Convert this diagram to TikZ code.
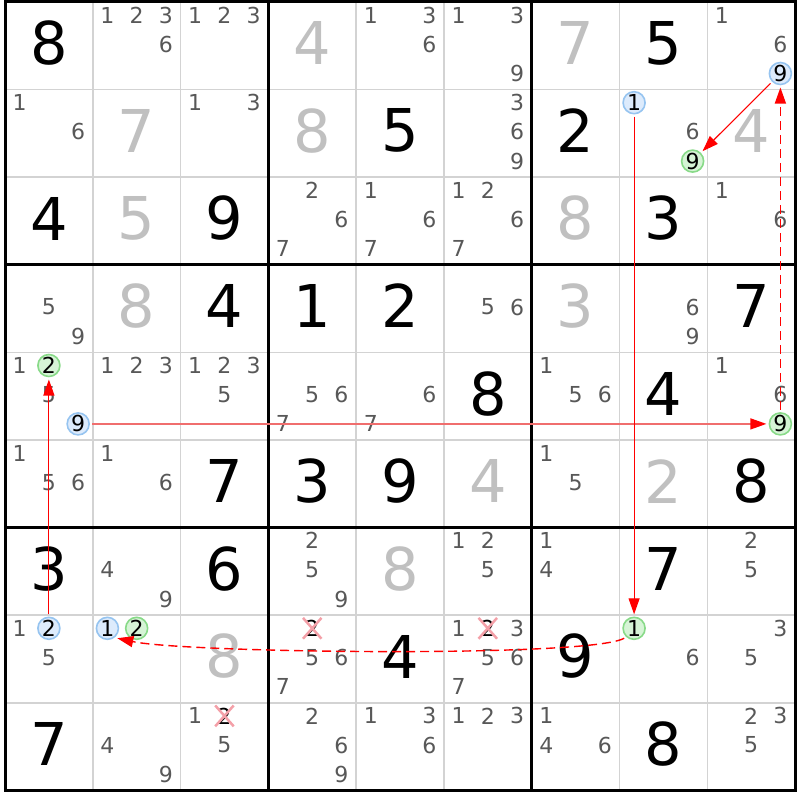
\documentclass[tikz,border=0pt]{standalone}
\usepackage{fontspec}
\setmainfont{DejaVu Sans}
\usetikzlibrary{arrows.meta,shapes.misc}
\definecolor{candgray}{RGB}{88,88,88}
\definecolor{solvedgray}{RGB}{192,192,192}
\definecolor{gridgray}{RGB}{211,211,211}
\definecolor{bluefill}{RGB}{221,235,252}
\definecolor{bluedraw}{RGB}{150,196,240}
\definecolor{greenfill}{RGB}{214,244,214}
\definecolor{greendraw}{RGB}{136,218,136}
\definecolor{xpink}{RGB}{244,160,168}
\definecolor{lightred}{RGB}{240,110,110}
\def\cw{87.78}
\def\ch{87.6}
\tikzset{
  thingrid/.style={draw=gridgray, line width=1.5pt},
  thickgrid/.style={draw=black, line width=3pt},
  given/.style={font=\fontsize{59}{60}\selectfont, text=black, inner sep=0pt},
  solved/.style={given, text=solvedgray},
  cand/.style={font=\fontsize{22}{23}\selectfont, text=candgray, inner sep=0pt},
  bluering/.style={cand, text=black, circle, draw=bluedraw, fill=bluefill, line width=1.6pt, minimum size=22pt, outer sep=3pt},
  greenring/.style={bluering, draw=greendraw, fill=greenfill},
  crossed/.style={cand, text=black, cross out, draw=xpink, line width=2.5pt, inner sep=1pt},
  link/.style={draw=red, line width=1.1pt, -{Triangle[length=16pt,width=11pt,color=red]}},
  weaklink/.style={link, line width=1.4pt, dash pattern=on 9pt off 5pt},
  pairlink/.style={link, draw=lightred, line width=1.3pt}
}
\begin{document}
\begin{tikzpicture}[x=1pt,y=-1pt]
\useasboundingbox (0,0) rectangle (800,800);
\fill[white] (0,0) rectangle (800,800);
% thin grid
\foreach \i in {1,2,4,5,7,8}{
  \draw[thingrid] ({5+\i*\cw},2) -- ({5+\i*\cw},{2+9*\ch});
  \draw[thingrid] (5,{2+\i*\ch}) -- ({5+9*\cw},{2+\i*\ch});
}
% thick grid
\foreach \i in {3,6}{
  \draw[thickgrid] ({5+\i*\cw},2) -- ({5+\i*\cw},{2+9*\ch});
  \draw[thickgrid] (5,{2+\i*\ch}) -- ({5+9*\cw},{2+\i*\ch});
}
\draw[thickgrid] (5,2) rectangle ({5+9*\cw},{2+9*\ch});
% given digits
\foreach \r/\c/\d in {1/1/8,1/8/5,2/5/5,2/7/2,3/1/4,3/3/9,3/8/3,4/3/4,4/4/1,4/5/2,4/9/7,5/6/8,5/8/4,6/3/7,6/4/3,6/5/9,6/9/8,7/1/3,7/3/6,7/8/7,8/5/4,8/7/9,9/1/7,9/8/8}{
  \node[given] (g\r\c) at ({5+(\c-0.5)*\cw},{2+(\r-0.5)*\ch-2.5}) {\d};
}
% solved digits
\foreach \r/\c/\d in {1/4/4,1/7/7,2/2/7,2/4/8,2/9/4,3/2/5,3/7/8,4/2/8,4/7/3,6/6/4,6/8/2,7/5/8,8/3/8}{
  \node[solved] (g\r\c) at ({5+(\c-0.5)*\cw},{2+(\r-0.5)*\ch-2.5}) {\d};
}
% candidates
\foreach \r/\c/\d in {1/2/1,1/2/2,1/2/3,1/2/6,1/3/1,1/3/2,1/3/3,1/5/1,1/5/3,1/5/6,1/6/1,1/6/3,1/6/9,1/9/1,1/9/6,
2/1/1,2/1/6,2/3/1,2/3/3,2/6/3,2/6/6,2/6/9,2/8/6,
3/4/2,3/4/6,3/4/7,3/5/1,3/5/6,3/5/7,3/6/1,3/6/2,3/6/6,3/6/7,3/9/1,3/9/6,
4/1/5,4/1/9,4/6/5,4/6/6,4/8/6,4/8/9,
5/1/1,5/1/5,5/2/1,5/2/2,5/2/3,5/3/1,5/3/2,5/3/3,5/3/5,5/4/5,5/4/6,5/4/7,5/5/6,5/5/7,5/7/1,5/7/5,5/7/6,5/9/1,5/9/6,
6/1/1,6/1/5,6/1/6,6/2/1,6/2/6,6/7/1,6/7/5,
7/2/4,7/2/9,7/4/2,7/4/5,7/4/9,7/6/1,7/6/2,7/6/5,7/7/1,7/7/4,7/9/2,7/9/5,
8/1/1,8/1/5,8/4/5,8/4/6,8/4/7,8/6/1,8/6/3,8/6/5,8/6/6,8/6/7,8/8/6,8/9/3,8/9/5,
9/2/4,9/2/9,9/3/1,9/3/5,9/4/2,9/4/6,9/4/9,9/5/1,9/5/3,9/5/6,9/6/1,9/6/2,9/6/3,9/7/1,9/7/4,9/7/6,9/9/2,9/9/3,9/9/5}{
  \pgfmathsetmacro\px{5+(\c-1)*\cw+(mod(\d-1,3)+0.5)*\cw/3}
  \pgfmathsetmacro\py{2+(\r-1)*\ch+(floor((\d-1)/3)+0.5)*\ch/3-1.5}
  \node[cand] (k\r\c\d) at (\px,\py) {\d};
}
\foreach \r/\c/\d in {8/4/2,8/6/2,9/3/2}{
  \pgfmathsetmacro\px{5+(\c-1)*\cw+(mod(\d-1,3)+0.5)*\cw/3}
  \pgfmathsetmacro\py{2+(\r-1)*\ch+(floor((\d-1)/3)+0.5)*\ch/3-1.5}
  \node[crossed] (k\r\c\d) at (\px,\py) {\d};
}
\foreach \r/\c/\d in {1/9/9,2/8/1,5/1/9,8/1/2,8/2/1}{
  \pgfmathsetmacro\px{5+(\c-1)*\cw+(mod(\d-1,3)+0.5)*\cw/3}
  \pgfmathsetmacro\py{2+(\r-1)*\ch+(floor((\d-1)/3)+0.5)*\ch/3-1.5}
  \node[bluering] (k\r\c\d) at (\px,\py) {\d};
}
\foreach \r/\c/\d in {2/8/9,5/1/2,5/9/9,8/2/2,8/8/1}{
  \pgfmathsetmacro\px{5+(\c-1)*\cw+(mod(\d-1,3)+0.5)*\cw/3}
  \pgfmathsetmacro\py{2+(\r-1)*\ch+(floor((\d-1)/3)+0.5)*\ch/3-1.5}
  \node[greenring] (k\r\c\d) at (\px,\py) {\d};
}
% connectors
\draw[link] (k812) -- (k512);
\draw[pairlink] (k519) -- (k599);
\draw[link] (k281) -- (k881);
\draw[weaklink] (k881.south west) .. controls (590,658) and (185,653) .. (k821.south east);
\draw[weaklink] (k599) -- (k199);
\draw[link] (k199) -- (k289);
\end{tikzpicture}
\end{document}
